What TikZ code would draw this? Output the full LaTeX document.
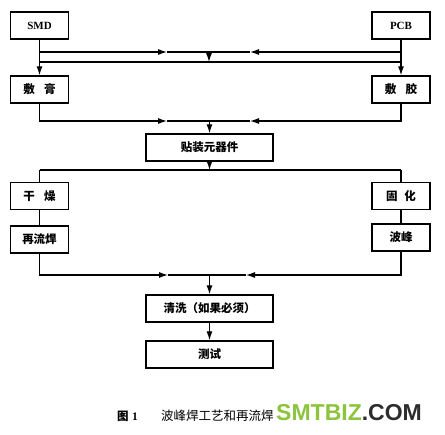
\documentclass[tikz,border=0pt]{standalone}
\usepackage{fontspec}
\setmainfont{Liberation Serif}
\newfontfamily\cjk{Noto Sans CJK SC}
\newfontfamily\wm{Liberation Sans}
\usetikzlibrary{arrows.meta}
\definecolor{wmgreen}{RGB}{140,196,62}
\definecolor{wmdark}{RGB}{45,45,45}
\tikzset{
  box/.style={draw, line width=1.4pt, minimum height=27pt, inner sep=0pt, font=\cjk\bfseries\fontsize{11.5}{12}\selectfont},
  sbox/.style={box, minimum width=58pt},
  wbox/.style={box, minimum width=127pt},
  ln/.style={line width=1.1pt},
  arr/.style={ln, -{Latex[length=9pt,width=6pt]}},
}
\begin{document}
\begin{tikzpicture}[x=1pt,y=-1pt]
\useasboundingbox (0,0) rectangle (445,435);
% nodes
\node[sbox, font=\bfseries\fontsize{11}{12}\selectfont] (smd) at (39.5,25.5) {SMD};
\node[sbox, font=\bfseries\fontsize{11}{12}\selectfont] (pcb) at (401,25.5) {PCB};
\node[sbox] (fg) at (39.5,89.5) {敷\hspace{0.8em}膏};
\node[sbox] (fj) at (401,89.5) {敷\hspace{0.8em}胶};
\node[wbox] (tz) at (209.5,147.5) {贴装元器件};
\node[sbox] (gz) at (39.5,196) {干\hspace{0.8em}燥};
\node[sbox] (gh) at (401,196) {固\hspace{0.6em}化};
\node[sbox] (zl) at (39.5,239.5) {再流焊};
\node[sbox] (bf) at (401,237.5) {波峰};
\node[wbox] (qx) at (209.5,308.5) {清洗（如果必须）};
\node[wbox] (cs) at (209.5,354.5) {测试};
% coordinates
\coordinate (l1) at (39.5,52);
\coordinate (r1) at (401,52);
\coordinate (m1a) at (167,52);
\coordinate (m1b) at (250,52);
\coordinate (j1) at (209,52);
\coordinate (j1d) at (209,62);
\coordinate (l2) at (39.5,62);
\coordinate (r2) at (401,62);
\coordinate (m2a) at (167,121);
\coordinate (m2b) at (250,121);
\coordinate (j2) at (209.5,121);
\coordinate (j3) at (209.5,170);
\coordinate (l3) at (39.5,170);
\coordinate (r3) at (401,170);
\coordinate (m4a) at (168,275);
\coordinate (m4b) at (246,275);
\coordinate (j4) at (209.5,275);
% top section
\draw[arr] (smd) -- (fg);
\draw[arr] (pcb) -- (fj);
\draw[arr] (l1) -- (m1a);
\draw[ln] (m1a) -- (j1);
\draw[arr] (r1) -- (m1b);
\draw[ln] (m1b) -- (j1);
\draw[arr] (j1) -- (j1d);
\draw[ln] (l2) -- (r2);
% to placement
\draw[arr] (fg) |- (m2a);
\draw[ln] (m2a) -- (j2);
\draw[arr] (fj) |- (m2b);
\draw[ln] (m2b) -- (j2);
\draw[arr] (j2) -- (tz);
% split
\draw[arr] (tz) -- (j3);
\draw[ln] (l3) -- (r3);
\draw[ln] (l3) -- (gz);
\draw[ln] (r3) -- (gh);
\draw[ln] (gz) -- (zl);
\draw[ln] (gh) -- (bf);
% merge
\draw[arr] (zl) |- (m4a);
\draw[ln] (m4a) -- (j4);
\draw[arr] (bf) |- (m4b);
\draw[ln] (m4b) -- (j4);
\draw[arr] (j4) -- (qx);
\draw[arr] (qx) -- (cs);
% caption
\node[anchor=west, inner sep=0pt, font=\cjk\bfseries\fontsize{11.5}{12}\selectfont] (cap1) at (117,416) {图\hspace{0.3em}{\rmfamily 1}};
\node[anchor=west, inner sep=0pt, font=\cjk\fontsize{12.5}{12}\selectfont] (cap2) at (161,416) {波峰焊工艺和再流焊};
% watermark
\node[anchor=west, inner sep=0pt, font=\wm\bfseries\fontsize{23}{24}\selectfont] (wmk) at (276,413) {\textcolor{wmgreen}{SMTBIZ}\textcolor{wmdark}{.COM}};
\end{tikzpicture}
\end{document}
